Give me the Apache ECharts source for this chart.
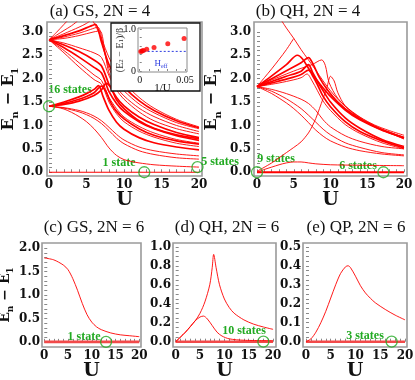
<!DOCTYPE html>
<html>
<head>
<meta charset="utf-8">
<script src="https://cdn.jsdelivr.net/npm/echarts@6.0.0/dist/echarts.min.js"></script>
<style>
  html, body { margin: 0; padding: 0; background: #fff; }
  #chart { width: 415px; height: 380px; }
</style>
</head>
<body>
<div id="chart"></div>
<script>
// ---- data: each curve is a list of [U, En - E1] ----
// (a) GS, 2N = 4
const aGround = [[0, 0], [20, 0]]
const aOneState = [[0, 1.41], [1, 1.39], [2, 1.35], [3, 1.28], [4, 1.19], [5, 1.08], [6, 0.93], [7, 0.74], [8, 0.52], [9, 0.36], [10, 0.27], [11, 0.23], [12, 0.2], [14, 0.16], [17, 0.13], [20, 0.11]]
const aLow2 = [[0, 1.41], [2, 1.37], [4, 1.29], [5, 1.23], [6, 1.15], [7, 1.04], [8, 0.89], [9, 0.73], [10, 0.61], [12, 0.46], [14, 0.38], [17, 0.31], [20, 0.28]]
const aLow3 = [[0, 1.41], [2, 1.38], [4, 1.32], [5, 1.27], [6, 1.2], [7, 1.1], [8, 0.96], [9, 0.81], [10, 0.69], [12, 0.54], [14, 0.46], [17, 0.39], [20, 0.35]]
const aFan1 = [[0, 1.41], [2, 1.5], [4, 1.61], [5, 1.68], [6, 1.77], [6.6, 1.85], [7.2, 1.62], [8, 1.32], [9, 1.07], [10, 0.92], [12, 0.74], [14, 0.63], [17, 0.54], [20, 0.48]]
const aFan2 = [[0, 1.41], [2, 1.47], [4, 1.56], [5, 1.62], [6, 1.7], [7, 1.84], [7.6, 1.72], [8.2, 1.5], [9, 1.3], [10, 1.14], [12, 0.93], [14, 0.79], [17, 0.67], [20, 0.6]]
const aFan3 = [[0, 1.41], [2, 1.45], [4, 1.52], [6, 1.64], [7, 1.76], [7.6, 1.9], [8.2, 1.82], [9, 1.55], [10, 1.36], [12, 1.1], [14, 0.94], [17, 0.8], [20, 0.72]]
const aUp1 = [[0, 2.83], [1, 2.99], [2, 3.16], [2.6, 3.26]]
const aUp2 = [[0, 2.83], [1, 2.93], [2, 3.03], [3, 3.13], [3.8, 3.23]]
const aUp3 = [[0, 2.83], [2, 2.96], [4, 3.1], [5, 3.18], [5.5, 3.24]]
const aFold1 = [[0, 2.83], [2, 2.92], [4, 3.02], [5.5, 3.12], [6.2, 3.16], [7, 2.78], [8, 2.3], [9, 2.02], [10, 1.82], [12, 1.53], [14, 1.32], [17, 1.1], [20, 0.95]]
const aFold2 = [[0, 2.83], [2, 2.89], [4, 2.97], [5.5, 3.05], [6.5, 3.1], [7.3, 2.62], [8, 2.22], [9, 1.94], [10, 1.74], [12, 1.46], [14, 1.27], [17, 1.06], [20, 0.93]]
const aFold3 = [[0, 2.83], [2, 2.86], [4, 2.92], [6, 3.0], [6.8, 3.02], [7.5, 2.52], [8, 2.12], [9, 1.82], [10, 1.63], [12, 1.37], [14, 1.19], [17, 1.0], [20, 0.87]]
const aTop1 = [[5.6, 3.3], [6.3, 3.1], [7, 2.85], [8, 2.45], [9, 2.15], [10, 1.92], [12, 1.6], [14, 1.37], [17, 1.13], [20, 0.97]]
const aDown1 = [[0, 2.83], [2, 2.76], [4, 2.66], [6, 2.55], [7, 2.45], [8, 2.06], [9, 1.76], [10, 1.56], [12, 1.29], [14, 1.1], [17, 0.93], [20, 0.82]]
const aDown2 = [[0, 2.83], [2, 2.72], [4, 2.58], [6, 2.4], [7, 2.27], [8, 1.88], [9, 1.6], [10, 1.42], [12, 1.18], [14, 1.02], [17, 0.85], [20, 0.74]]
const aDown3 = [[0, 2.83], [2, 2.66], [4, 2.46], [6, 2.24], [7, 2.12], [8, 1.72], [9, 1.47], [10, 1.3], [12, 1.08], [14, 0.93], [17, 0.78], [20, 0.68]]
const aDown4 = [[0, 2.83], [2, 2.6], [4, 2.34], [6, 2.08], [7, 1.96], [8, 1.6], [9, 1.36], [10, 1.18], [12, 0.98], [14, 0.84], [17, 0.7], [20, 0.62]]
const aDown5 = [[0, 2.83], [2, 2.55], [4, 2.25], [6, 1.98], [7, 1.88], [8, 1.5], [9, 1.25], [10, 1.08], [12, 0.88], [14, 0.75], [17, 0.62], [20, 0.55]]

// (b) QH, 2N = 4
const bGround = [[0, 0], [20, 0]]
const bBump = [[0, 0], [1, 0.06], [2, 0.11], [3, 0.16], [4, 0.2], [5, 0.22], [6, 0.22], [7, 0.2], [8, 0.18], [10, 0.16], [14, 0.15], [20, 0.14]]
const bRise = [[0, 0.02], [2, 0.2], [4, 0.42], [5, 0.53], [6, 0.65], [7, 0.84], [7.5, 0.98], [8, 1.15], [8.5, 1.36], [9, 1.58], [9.5, 1.8], [10, 2.05], [10.5, 1.95], [11, 1.7], [12, 1.42], [14, 1.15], [17, 0.9], [20, 0.75]]
const bTop = [[3.3, 3.25], [4, 3.08], [5, 2.86], [6, 2.62], [7, 2.4], [8, 2.18], [9, 1.95], [10, 1.74], [11, 1.56], [12, 1.41], [14, 1.18], [16, 1.01], [18, 0.89], [20, 0.79]]
const bFan1 = [[0, 1.83], [1, 2.02], [2, 2.21], [3, 2.41], [4, 2.62], [5, 2.86]]
const bFan2 = [[0, 1.83], [2, 2.06], [4, 2.3], [5.5, 2.5], [6.2, 2.42], [7, 2.22], [8, 2.0], [9, 1.8], [10, 1.62], [12, 1.33], [14, 1.12], [17, 0.9], [20, 0.74]]
const bFan3 = [[0, 1.83], [2, 2.0], [4, 2.17], [6, 2.34], [7, 2.45], [7.6, 2.32], [8.5, 2.02], [9.5, 1.78], [11, 1.5], [13, 1.24], [16, 0.98], [20, 0.73]]
const bFan4 = [[0, 1.83], [2, 1.97], [4, 2.1], [6, 2.22], [7.5, 2.3], [8.8, 2.4], [9.3, 2.28], [9.8, 1.92], [11, 1.58], [13, 1.28], [16, 0.99], [20, 0.71]]
const bFan5 = [[0, 1.83], [2, 1.94], [4, 2.05], [6, 2.16], [7, 2.3], [7.6, 2.12], [8.2, 1.95], [9, 1.74], [10, 1.5], [12, 1.16], [14, 0.94], [17, 0.7], [20, 0.55]]
const bFan6 = [[0, 1.83], [2, 1.91], [4, 1.99], [6, 2.09], [7, 2.18], [7.6, 2.05], [8.2, 1.88], [9, 1.62], [10, 1.4], [12, 1.08], [14, 0.87], [17, 0.67], [20, 0.52]]
const bFan7 = [[0, 1.83], [2, 1.88], [4, 1.94], [6, 2.02], [6.8, 2.1], [7.5, 1.95], [8.2, 1.75], [9, 1.52], [10, 1.32], [12, 1.02], [14, 0.83], [17, 0.63], [20, 0.5]]
const bDown1 = [[0, 1.83], [2, 1.77], [4, 1.68], [6, 1.56], [7, 1.47], [8, 1.32], [9, 1.12], [10, 0.97], [12, 0.78], [14, 0.66], [17, 0.55], [20, 0.5]]
const bDown2 = [[0, 1.83], [2, 1.73], [4, 1.57], [5, 1.47], [6, 1.36], [7, 1.22], [8, 1.07], [9, 0.92], [10, 0.8], [12, 0.63], [14, 0.53], [17, 0.42], [20, 0.37]]
const bDown3 = [[0, 1.83], [2, 1.68], [4, 1.48], [5, 1.36], [6, 1.22], [7, 1.06], [8, 0.9], [9, 0.77], [10, 0.67], [12, 0.54], [14, 0.46], [17, 0.39], [20, 0.35]]

// (c) GS, 2N = 6
const cGround = [[0, 0], [20, 0]]
const cGap = [[0, 1.79], [2, 1.75], [4, 1.64], [5, 1.54], [6, 1.35], [7, 1.1], [8, 0.82], [9, 0.58], [10, 0.42], [11, 0.32], [12, 0.26], [14, 0.19], [16, 0.15], [18, 0.13], [20, 0.11]]

// (d) QH, 2N = 6
const dGround = [[0, 0], [20, 0]]
const dPeak = [[0, 0], [2, 0.1], [4, 0.22], [5, 0.3], [6, 0.42], [7, 0.6], [7.5, 0.78], [7.8, 0.92], [8.3, 0.78], [9, 0.6], [10, 0.45], [11, 0.36], [12, 0.3], [14, 0.23], [16, 0.185], [18, 0.155], [20, 0.13]]
const dBump = [[0, 0], [1, 0.05], [2, 0.1], [3, 0.16], [4, 0.22], [5, 0.26], [5.7, 0.27], [6.5, 0.24], [7.5, 0.17], [8.5, 0.1], [9.5, 0.06], [11, 0.03], [14, 0.015], [20, 0.01]]

// (e) QP, 2N = 6
const eGround = [[0, 0], [20, 0]]
const ePeak = [[0, 0], [1, 0.015], [2, 0.05], [3, 0.1], [4, 0.16], [5, 0.23], [6, 0.3], [7, 0.36], [8, 0.395], [8.5, 0.4], [9, 0.39], [10, 0.345], [11, 0.295], [12, 0.257], [13, 0.229], [14, 0.205], [16, 0.17], [18, 0.14], [20, 0.115]]

// inset: (E2 - E1)/beta against 1/U
const insetInvU = [0.0012, 0.0025, 0.004, 0.0077, 0.0158, 0.031, 0.049]
const insetGap = [0.47, 0.48, 0.49, 0.52, 0.56, 0.65, 0.78]
const heffLevel = 0.47

// green marker circles
const circlesA = [[0, 1.41], [12.7, 0], [19.8, 0.11]]
const circlesB = [[0, 0], [17.2, 0]]
const circlesC = [[13, 0]]
const circlesD = [[18, 0]]
const circlesE = [[17.3, 0]]

// tick labels
const uTicks = [0, 5, 10, 15, 20]
const yTicksA = [0, 0.5, 1, 1.5, 2, 2.5, 3]
const yTicksC = [0, 0.5, 1, 1.5, 2]
const yTicksD = [0, 0.2, 0.4, 0.6, 0.8, 1]
const yTicksE = [0, 0.1, 0.2, 0.3, 0.4, 0.5]

// ---- styling ----
const RED = '#ff0000'
const GREEN = '#22aa22'
const BLUE = '#2b3be0'
const SERIF = 'DejaVu Serif'
const TIMES = 'Liberation Serif'

const panelCurves = [
  [aGround, aOneState, aLow2, aLow3, aFan1, aFan2, aFan3, aUp1, aUp2, aUp3, aFold1, aFold2, aFold3, aTop1, aDown1, aDown2, aDown3, aDown4, aDown5],
  [bGround, bBump, bRise, bTop, bFan1, bFan2, bFan3, bFan4, bFan5, bFan6, bFan7, bDown1, bDown2, bDown3],
  [cGround, cGap],
  [dGround, dPeak, dBump],
  [eGround, ePeak]
]
const thick = [aFan1, aFan2, aFan3, aFold1, aDown2, aDown3, bFan2, bFan3, bFan5, bFan6]
const grounds = [aGround, bGround, cGround, dGround, eGround]
const circles = [circlesA, circlesB, circlesC, circlesD, circlesE]

function range (a, b, step) {
  const out = []
  for (let v = a; v <= b + 1e-9; v += step) out.push(+v.toFixed(4))
  return out
}

function xAxisFor (gi, min, max) {
  return {
    gridIndex: gi, type: 'value', min, max,
    axisLine: { show: false }, splitLine: { show: false },
    axisTick: { inside: true, length: 3, lineStyle: { color: '#888' }, customValues: range(0, 20, 1) },
    axisLabel: {
      customValues: uTicks, margin: 3, color: '#111',
      fontFamily: SERIF, fontWeight: 'bold', fontSize: 12
    },
    name: 'U', nameLocation: 'middle', nameGap: 15, nameMoveOverlap: false,
    nameTextStyle: { fontFamily: SERIF, fontWeight: 'bold', fontSize: 19, color: '#111', verticalAlign: 'top' }
  }
}

function nameRich (fs) {
  return {
    m: { fontFamily: SERIF, fontWeight: 'bold', fontSize: fs, color: '#111', lineHeight: fs + 6, verticalAlign: 'middle' },
    s: { fontFamily: SERIF, fontWeight: 'bold', fontSize: Math.round(fs * 0.62), color: '#111', lineHeight: Math.round(fs * 0.62), verticalAlign: 'bottom' }
  }
}

function yAxisFor (gi, min, max, ticks, step, named, gap, fs, margin) {
  const ax = {
    gridIndex: gi, type: 'value', min, max,
    axisLine: { show: false }, splitLine: { show: false },
    axisTick: { inside: true, length: 3, lineStyle: { color: '#888' }, customValues: range(0, ticks[ticks.length - 1], step) },
    axisLabel: {
      customValues: ticks, margin, color: '#111',
      fontFamily: SERIF, fontWeight: 'bold', fontSize: 12,
      formatter: v => v.toFixed(1)
    }
  }
  if (named) {
    Object.assign(ax, {
      name: '{m|E}{s|n}{m| − E}{s|1}', nameLocation: 'middle', nameRotate: 90,
      nameGap: gap, nameMoveOverlap: false,
      nameTextStyle: { rich: nameRich(fs) }
    })
  }
  return ax
}

const gridBase = { show: true, borderColor: '#9a9a9a', borderWidth: 1.6, containLabel: false, outerBoundsMode: 'none' }
const grids = [
  { left: 47, top: 22, width: 155, height: 154 },
  { left: 254, top: 22, width: 153, height: 154 },
  { left: 42, top: 243, width: 99, height: 104 },
  { left: 173, top: 243, width: 103, height: 104 },
  { left: 303, top: 243, width: 104, height: 104 }
].map(g => Object.assign({}, gridBase, g))
grids.push(Object.assign({}, gridBase, { left: 138, top: 28, width: 49, height: 44, borderColor: '#8a8a8a', borderWidth: 1, zlevel: 1, z: 5 }))

const xAxes = [
  xAxisFor(0, -0.27, 20.4),
  xAxisFor(1, -0.41, 20.41),
  xAxisFor(2, -0.48, 20.36),
  xAxisFor(3, -0.55, 20.6),
  xAxisFor(4, -0.6, 20.4),
  {
    gridIndex: 5, type: 'value', min: -0.0019, max: 0.0522, zlevel: 1, z: 5,
    axisLine: { show: false }, splitLine: { show: false },
    axisTick: { inside: true, length: 2, lineStyle: { color: '#888' }, customValues: range(0, 0.05, 0.01) },
    axisLabel: { customValues: [0, 0.05], margin: 3, color: '#111', fontFamily: TIMES, fontSize: 10, formatter: v => (v === 0 ? '0' : '0.05') },
    name: '1/U', nameLocation: 'middle', nameGap: 11, nameMoveOverlap: false,
    nameTextStyle: { fontFamily: TIMES, fontSize: 11, color: '#111', verticalAlign: 'top' }
  }
]
const yAxes = [
  yAxisFor(0, -0.08, 3.21, yTicksA, 0.1, true, 27, 16, 4),
  yAxisFor(1, -0.08, 3.21, yTicksA, 0.1, true, 31, 16, 3),
  yAxisFor(2, -0.11, 2.11, yTicksC, 0.1, true, 27, 14, 2),
  yAxisFor(3, -0.056, 1.04, yTicksD, 0.05, false, 0, 0, 2),
  yAxisFor(4, -0.028, 0.52, yTicksE, 0.025, false, 0, 0, 2),
  {
    gridIndex: 5, type: 'value', min: -0.024, max: 1.03, zlevel: 1, z: 5,
    axisLine: { show: false }, splitLine: { show: false },
    axisTick: { inside: true, length: 2, lineStyle: { color: '#888' }, customValues: range(0, 1, 0.2) },
    axisLabel: { customValues: [0, 1], margin: 2, color: '#111', fontFamily: TIMES, fontSize: 10, formatter: v => (v === 0 ? '0' : '1.0') },
    name: '(E{s|2} − E{s|1})/β', nameLocation: 'middle', nameRotate: 90, nameGap: 13, nameMoveOverlap: false,
    nameTextStyle: {
      fontFamily: TIMES, fontSize: 10, color: '#333',
      rich: { s: { fontFamily: TIMES, fontSize: 7, color: '#333', verticalAlign: 'bottom', lineHeight: 7 } }
    }
  }
]

const series = []
panelCurves.forEach((curves, gi) => {
  curves.forEach(c => {
    const isGround = grounds.includes(c)
    let width = 0.9
    if (thick.includes(c)) width = 1.7
    if (isGround) width = gi >= 2 ? 2.6 : (gi === 1 ? 2 : 1.1)
    series.push({
      type: 'line', xAxisIndex: gi, yAxisIndex: gi, data: c,
      showSymbol: false, smooth: 0.3, silent: true,
      lineStyle: { color: isGround && gi >= 2 ? '#f24a4a' : RED, width }
    })
  })
  series.push({
    type: 'scatter', xAxisIndex: gi, yAxisIndex: gi, data: circles[gi],
    symbol: 'circle', symbolSize: 11, clip: false, z: 5, silent: true,
    itemStyle: { color: 'rgba(0,0,0,0)', borderColor: GREEN, borderWidth: 1.3 }
  })
})

// inset series
series.push({
  type: 'line', xAxisIndex: 5, yAxisIndex: 5, zlevel: 1, z: 6, silent: true,
  data: [[0, heffLevel], [0.0522, heffLevel]], showSymbol: false,
  lineStyle: { color: BLUE, width: 1, type: [2, 2] },
  markLine: {
    silent: true, symbol: ['none', 'triangle'], symbolSize: [5, 6],
    lineStyle: { color: BLUE, width: 1, type: 'solid' }, label: { show: false },
    data: [[{ coord: [0.0235, 0.25] }, { coord: [0.0235, 0.43] }]]
  }
})
series.push({
  type: 'scatter', xAxisIndex: 5, yAxisIndex: 5, zlevel: 1, z: 7, silent: true,
  data: insetInvU.map((u, i) => [u, insetGap[i]]),
  symbolSize: 5, itemStyle: { color: RED }
})

function txt (text, x, y, font, fill, extra) {
  return Object.assign({ type: 'text', x, y, silent: true, style: { text, font, fill, textAlign: 'center', textVerticalAlign: 'middle' } }, extra || {})
}
const titleFont = '17px "Liberation Serif"'
const noteFont = 'bold 12px "Liberation Serif"'

const graphic = [
  { type: 'rect', zlevel: 1, z: 0, silent: true, shape: { x: 111, y: 23, width: 89, height: 68 }, style: { fill: '#fff', stroke: '#111', lineWidth: 1.3 } },
  txt('(a) GS, 2N = 4', 100, 12, titleFont, '#111'),
  txt('(b) QH, 2N = 4', 308, 12, titleFont, '#111'),
  txt('(c) GS, 2N = 6', 94, 228, titleFont, '#111'),
  txt('(d) QH, 2N = 6', 227, 228, titleFont, '#111'),
  txt('(e) QP, 2N = 6', 356, 228, titleFont, '#111'),
  txt('16 states', 70, 90, noteFont, GREEN),
  txt('1 state', 119, 163, noteFont, GREEN),
  txt('5 states', 220, 162, noteFont, GREEN),
  txt('9 states', 276, 159, noteFont, GREEN),
  txt('6 states', 358, 166, noteFont, GREEN),
  txt('1 state', 84, 337, noteFont, GREEN),
  txt('10 states', 244, 331, noteFont, GREEN),
  txt('3 states', 365, 336, noteFont, GREEN),
  {
    type: 'text', x: 161, y: 64, zlevel: 1, z: 8, silent: true,
    style: {
      text: '{m|H}{s|eff}', textAlign: 'center', textVerticalAlign: 'middle',
      rich: {
        m: { font: '9px "Liberation Serif"', fill: BLUE, lineHeight: 10 },
        s: { font: '6px "Liberation Serif"', fill: BLUE, lineHeight: 6, verticalAlign: 'bottom' }
      }
    }
  }
]

const chart = echarts.init(document.getElementById('chart'), null, { renderer: 'canvas' })
chart.setOption({
  animation: false,
  backgroundColor: '#fff',
  grid: grids,
  xAxis: xAxes,
  yAxis: yAxes,
  series,
  graphic
})
</script>
</body>
</html>
